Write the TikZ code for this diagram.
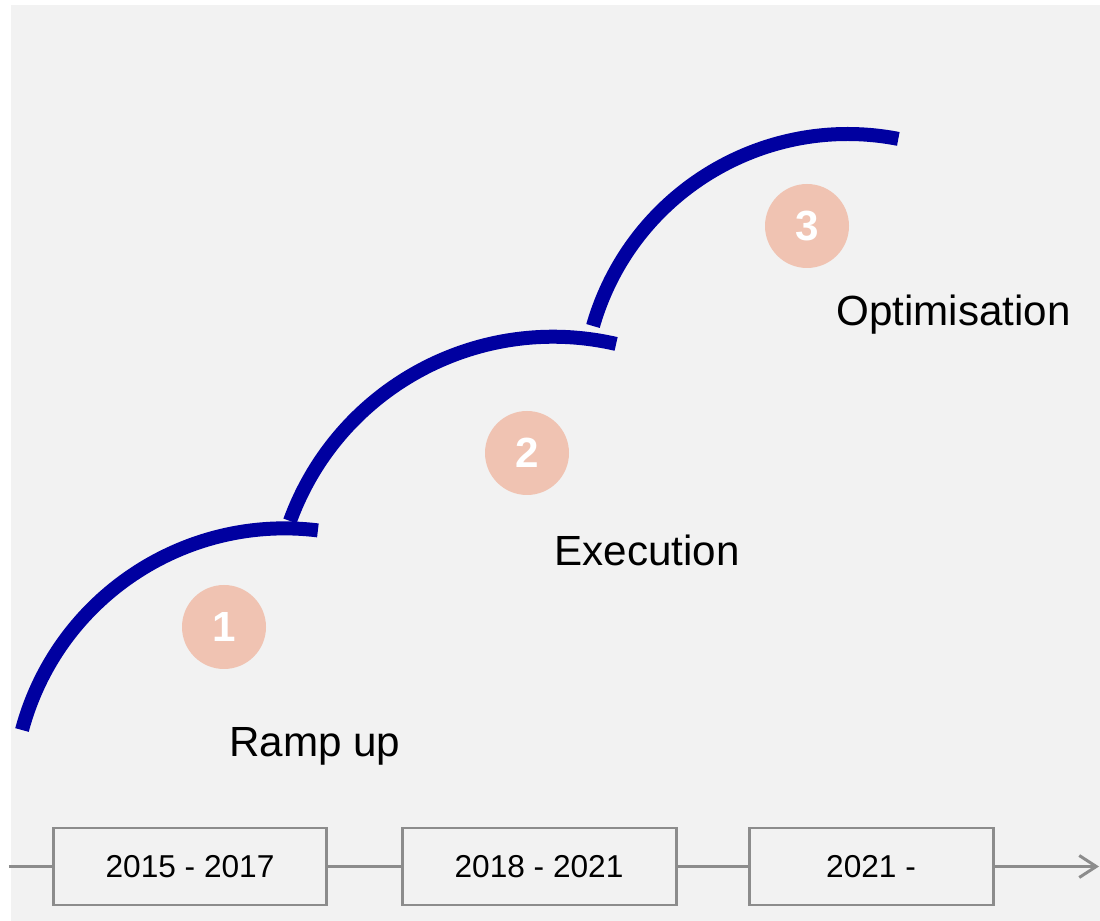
\documentclass[tikz,border=0pt]{standalone}
\usepackage{fontspec}
\setmainfont{Liberation Sans}
\usetikzlibrary{arrows.meta}
\definecolor{stageblue}{RGB}{0,0,160}
\definecolor{badgepeach}{RGB}{240,195,178}
\definecolor{panelgrey}{RGB}{242,242,242}
\definecolor{axisgrey}{RGB}{140,140,140}

\begin{document}
\begin{tikzpicture}[
    stage/.style={draw=stageblue,line width=0.28cm},
    badge/.style={circle,fill=badgepeach,text=white,minimum size=1.68cm,inner sep=0pt,
        font=\fontsize{24}{24}\selectfont\bfseries},
    phase/.style={anchor=base west,inner sep=0pt,font=\fontsize{24}{28}\selectfont},
    period/.style={draw=axisgrey,line width=1.7pt,minimum height=1.54cm,
        font=\fontsize{18}{20}\selectfont},
    timeline/.style={draw=axisgrey,line width=1.7pt}
]
            \useasboundingbox (0,0) rectangle (22,18.42);
            \fill[panelgrey] (0.22,0) rectangle (22,18.32);
            % three rising steps
            \draw[stage] (0.44,3.82) arc[start angle=165,end angle=83,radius=5.44];
            \draw[stage] (5.8,8.0) arc[start angle=160,end angle=77,radius=5.6];
            \draw[stage] (11.86,11.9) arc[start angle=164,end angle=79,radius=5.3];
            % numbered badges and phase names
            \node[badge] (b1) at (4.48,5.88) {1};
            \node[badge] (b2) at (10.54,9.36) {2};
            \node[badge] (b3) at (16.14,13.9) {3};
            \node[phase] (ramp) at (4.58,3.28) {Ramp up};
            \node[phase] (exec) at (11.08,7.1) {Execution};
            \node[phase] (optim) at (16.72,11.9) {Optimisation};
            % time axis
            \node[period,minimum width=5.46cm] (p1) at (3.8,1.09) {2015 - 2017};
            \node[period,minimum width=5.48cm] (p2) at (10.78,1.09) {2018 - 2021};
            \node[period,minimum width=4.88cm] (p3) at (17.42,1.09) {2021 -};
            \coordinate (tstart) at (0.18,1.09);
            \coordinate (tend) at (21.98,1.09);
            \draw[timeline] (tstart) -- (p1);
            \draw[timeline] (p1) -- (p2);
            \draw[timeline] (p2) -- (p3);
            \draw[timeline,-{Straight Barb[length=3.4mm,width=4.4mm]}] (p3) -- (tend);
\end{tikzpicture}
\end{document}
